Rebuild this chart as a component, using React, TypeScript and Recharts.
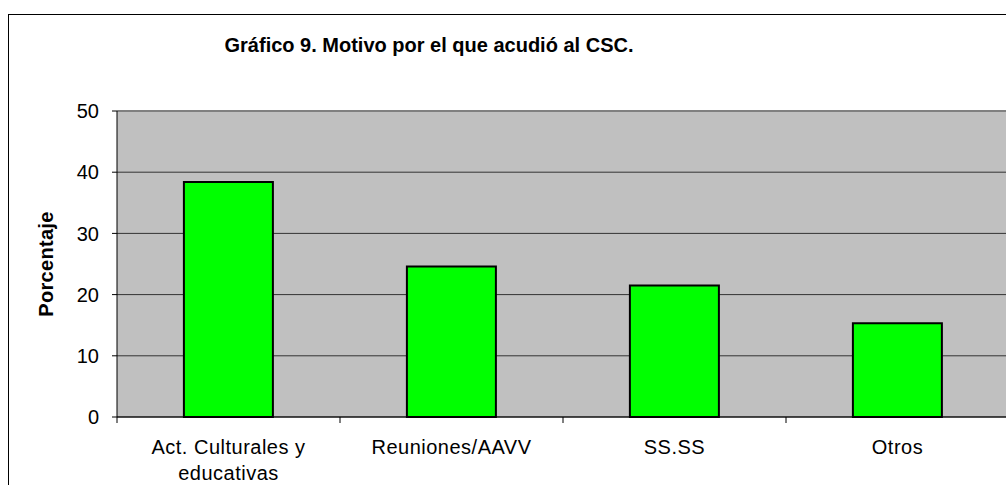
import React from "react";
import {
  BarChart,
  Bar,
  XAxis,
  YAxis,
  CartesianGrid,
  ReferenceLine,
} from "recharts";

const categories = [
  "Act. Culturales y educativas",
  "Reuniones/AAVV",
  "SS.SS",
  "Otros",
];
const percentages = [38.4, 24.6, 21.5, 15.3];
const yTicks = [0, 10, 20, 30, 40, 50];

const chartTitle = "Gráfico 9. Motivo por el que acudió al CSC.";
const yTitle = "Porcentaje";

const data = categories.map((name, i) => ({ name, value: percentages[i] }));

const font = "Arial, 'Liberation Sans', sans-serif";

// word wrap by character count, roughly like the original label box
function wrapLabel(label: string, maxChars = 18): string[] {
  const words = label.split(" ");
  const lines: string[] = [];
  let cur = "";
  words.forEach((w) => {
    const next = cur ? cur + " " + w : w;
    if (next.length > maxChars && cur) {
      lines.push(cur);
      cur = w;
    } else {
      cur = next;
    }
  });
  if (cur) lines.push(cur);
  return lines;
}

function CategoryTick(props: any) {
  const { x, y, payload } = props;
  const half = payload.offset ?? 111.5;
  const lines = wrapLabel(String(payload.value));
  return (
    <g>
      <line x1={x - half} x2={x - half} y1={y - 8} y2={y - 2} stroke="#000" />
      <text
        x={x}
        y={y + 29}
        textAnchor="middle"
        fontSize={20}
        fontFamily={font}
        letterSpacing={0.5}
        fill="#000"
      >
        {lines.map((l, i) => (
          <tspan key={i} x={x} dy={i === 0 ? 0 : 26}>
            {l}
          </tspan>
        ))}
      </text>
    </g>
  );
}

function YTitle(props: any) {
  const vb = props.viewBox || { x: 0, y: 111, width: 117, height: 306 };
  const cx = vb.x + 53;
  const cy = vb.y + vb.height / 2;
  return (
    <text
      x={cx}
      y={cy}
      transform={`rotate(-90, ${cx}, ${cy})`}
      textAnchor="middle"
      fontSize={20}
      fontWeight="bold"
      fontFamily={font}
      letterSpacing={0.3}
      fill="#000"
    >
      {yTitle}
    </text>
  );
}

export default function App() {
  return (
    <div
      style={{
        position: "absolute",
        left: 0,
        top: 0,
        width: 1006,
        height: 485,
        overflow: "hidden",
        background: "#fff",
        fontFamily: font,
      }}
    >
      <div
        style={{
          position: "absolute",
          left: 8,
          top: 14,
          width: 1100,
          height: 600,
          borderLeft: "1px solid #000",
          borderTop: "1px solid #000",
        }}
      />
      <div
        style={{
          position: "absolute",
          left: 0,
          width: 858,
          top: 33,
          textAlign: "center",
          fontSize: 20,
          fontWeight: "bold",
          lineHeight: "24px",
          color: "#000",
        }}
      >
        {chartTitle}
      </div>
      <div style={{ position: "absolute", left: 0, top: 0 }}>
        <BarChart
          width={1030}
          height={500}
          data={data}
          margin={{ top: 111, right: 21, left: 0, bottom: 23 }}
          barCategoryGap="30%"
        >
          <CartesianGrid
            vertical={false}
            fill="#C0C0C0"
            fillOpacity={1}
            stroke="#333"
          />
          <ReferenceLine y={50} stroke="#808080" strokeWidth={2} />
          <XAxis
            dataKey="name"
            height={60}
            axisLine={{ stroke: "#000" }}
            tickLine={false}
            tick={<CategoryTick />}
            interval={0}
          />
          <YAxis
            width={117}
            domain={[0, 50]}
            ticks={yTicks}
            interval={0}
            axisLine={{ stroke: "#000" }}
            tickLine={{ stroke: "#000" }}
            tickSize={5}
            tickMargin={13}
            tick={{ fontSize: 20, fill: "#000", fontFamily: font }}
            label={{ content: <YTitle /> }}
          />
          <Bar
            dataKey="value"
            fill="#00FF00"
            stroke="#000"
            strokeWidth={2}
            isAnimationActive={false}
          />
        </BarChart>
      </div>
    </div>
  );
}
